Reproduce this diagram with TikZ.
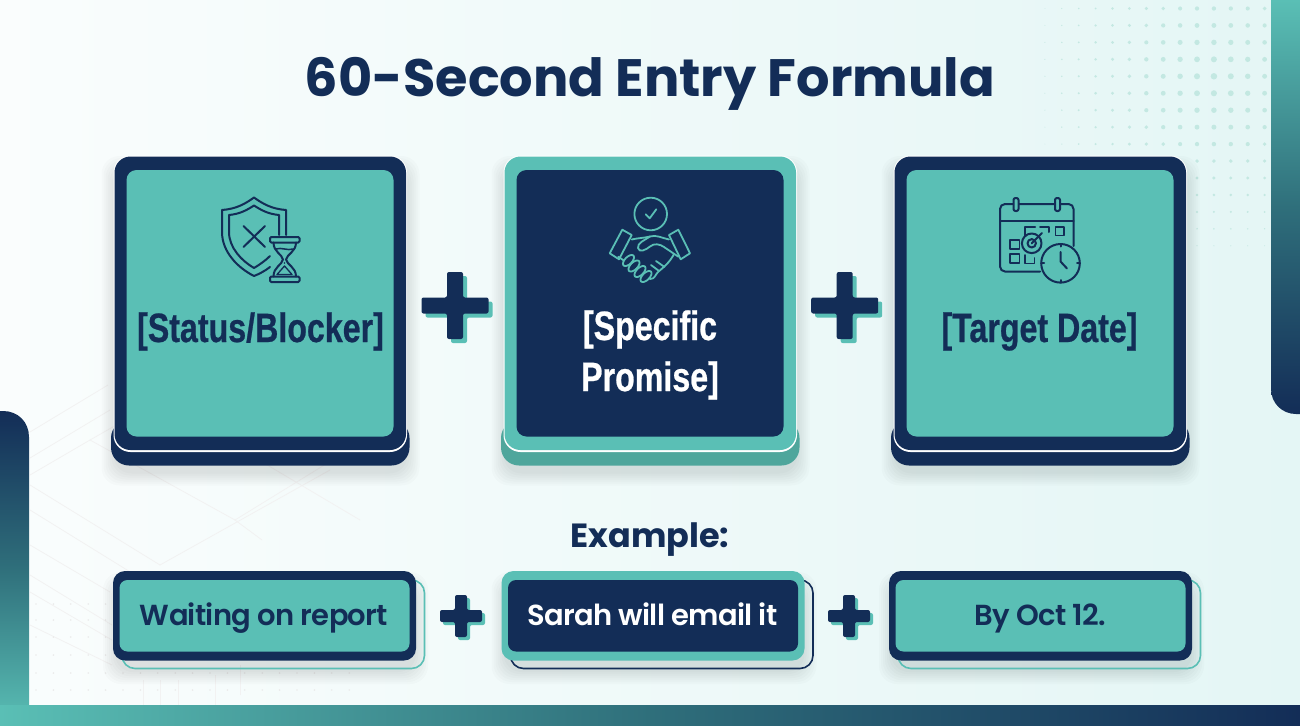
\documentclass[tikz,border=0pt]{standalone}
\usepackage{fontspec}
\setmainfont{Poppins}
\newfontfamily\titlefont[UprightFont=*,BoldFont=* Bold]{Poppins}
\newfontfamily\cardfont[UprightFont={* Bold},FakeStretch=0.785,FakeBold=0.6]{Liberation Sans}
\newfontfamily\examplefont[LetterSpace=-2.4]{Poppins SemiBold}
\definecolor{navy}{HTML}{132D57}
\definecolor{teal1}{HTML}{5ABFB5}
\definecolor{tealdark}{HTML}{4FA69C}
\definecolor{midbar}{HTML}{2F6F7B}
\definecolor{bgA}{HTML}{FAFDFD}
\definecolor{bgB}{HTML}{E4F6F5}
\definecolor{dotc}{HTML}{A8DDD2}
\tikzset{
  x=1pt,y=-1pt,
  icon/.style={line width=2pt,line cap=round,line join=round},
  cardlabel/.style={font=\cardfont\fontsize{41}{50}\selectfont,align=center,anchor=base,inner sep=0pt},
  exlabel/.style={font=\examplefont\fontsize{29}{34}\selectfont,anchor=base,inner sep=0pt},
  softrule/.style={draw=black!5,line width=0.8pt},
}
% soft shadow behind a rounded box
\newcommand{\softdrop}[4]{%
  \foreach \g in {12,10,8,6,4,2,0}{%
    \fill[black,opacity=0.014,rounded corners=18pt]
      ({#1-\g+2},{#2+8-\g}) rectangle ({#3+\g-2},{#4+8+\g});}}
% large card: base colour, rim colour, fill colour, left x
\newcommand{\bigcard}[4]{%
  \softdrop{#4-3}{160}{#4+295}{465.5}
  \fill[#1,rounded corners=18pt] (#4-3.5,420) rectangle (#4+295,465.5);
  \fill[white,rounded corners=17pt] (#4-1,155.5) rectangle (#4+292.5,452);
  \fill[#2,rounded corners=16pt] (#4,156.5) rectangle (#4+291.5,450);
  \fill[#3,rounded corners=10pt] (#4+12,170) rectangle (#4+279,436.5);
}
% small card: outline colour, border colour, fill colour, left x
\newcommand{\smallcard}[4]{%
  \softdrop{#4}{576}{#4+305}{664}
  \draw[#1,line width=1.6pt,rounded corners=13pt] (#4+9,580) rectangle (#4+311.5,668.5);
  \fill[#2,rounded corners=12pt] (#4,571) rectangle (#4+303,660.5);
  \fill[#3,rounded corners=8pt] (#4+6.5,580) rectangle (#4+296.5,651.5);
}
% plus sign: centre x, centre y, half length, half thickness, shadow offset
\newcommand{\plusmark}[5]{%
  \foreach \dd/\cc in {#5/teal1,0/navy}{%
    \fill[\cc,rounded corners=2pt]
      ({#1-#3+\dd},{#2-#4+\dd}) -- ({#1-#4+\dd},{#2-#4+\dd}) -- ({#1-#4+\dd},{#2-#3+\dd})
      -- ({#1+#4+\dd},{#2-#3+\dd}) -- ({#1+#4+\dd},{#2-#4+\dd}) -- ({#1+#3+\dd},{#2-#4+\dd})
      -- ({#1+#3+\dd},{#2+#4+\dd}) -- ({#1+#4+\dd},{#2+#4+\dd}) -- ({#1+#4+\dd},{#2+#3+\dd})
      -- ({#1-#4+\dd},{#2+#3+\dd}) -- ({#1-#4+\dd},{#2+#4+\dd}) -- ({#1-#3+\dd},{#2+#4+\dd}) -- cycle;}}
\begin{document}
\begin{tikzpicture}
\useasboundingbox (0,0) rectangle (1300,725);
% background
\shade[shading angle=135,left color=bgA,right color=bgB] (0,0) rectangle (1300,725);
% top-right dots
\foreach \i in {0,...,14}{\foreach \j in {0,...,15}{%
  \pgfmathsetmacro{\px}{1028+16.9*\i}
  \pgfmathsetmacro{\py}{8.5+16.95*\j}
  \pgfmathsetmacro{\dst}{10*sqrt(((\px-1213)/10)^2+((\py-78)/10)^2)}
  \pgfmathsetmacro{\rr}{3.3*(1-\dst/205)}
  \ifdim \rr pt>0.35pt
    \fill[dotc,opacity=0.55] (\px,\py) circle ({\rr});
  \fi}}
% bottom-left faint lines and dots
\foreach \a/\b/\c/\d in {
  30/432/108/385, 30/458/110/410, 30/475/90/440, 30/485/160/565, 30/510/140/578, 30/545/110/592, 30/575/112/625,
  30/592/112/640, 30/625/112/665, 90/440/160/400, 90/440/235/520, 160/400/225/440, 235/520/300/480,
  235/520/262/540, 300/480/365/440, 225/440/360/520, 160/565/330/470, 140/578/200/630, 240/695/240/665, 143/705/143/680,
  160/705/160/680, 178/705/178/680, 215/705/215/675}{
  \draw[softrule] (\a,\b) -- (\c,\d);}
\foreach \i in {0,...,18}{\foreach \y in {604,620,637,655,673,690}{%
  \fill[black!8] ({36+17.4*\i},\y) circle (0.9);}}
% frame bars
\shade[top color=navy,bottom color=teal1,middle color=midbar]
  (0,725) -- (0,411) -- (3,411) .. controls (18,411) and (29,422) .. (29,437) -- (29,725) -- cycle;
\shade[left color=teal1,right color=navy,middle color=midbar] (0,705) rectangle (1300,725);
\shade[top color=teal1,bottom color=navy,middle color=midbar]
  (1271,0) -- (1271,389) .. controls (1271,403) and (1282,414) .. (1296,414) -- (1300,414) -- (1300,0) -- cycle;
% title
\node (title) [font=\titlefont\bfseries\fontsize{52.6}{60}\selectfont,text=navy,anchor=base,inner sep=0pt] at (650,96) {60-Second Entry Formula};
% large cards
\bigcard{navy}{navy}{teal1}{114.5}
\bigcard{tealdark}{teal1}{navy}{504.5}
\bigcard{navy}{navy}{teal1}{894.5}
\node (lblA) [cardlabel,text=navy] at (260.5,342) {[Status/Blocker]};
\node (lblB) [cardlabel,text=white] at (650,340) {[Specific};
\node (lblC) [cardlabel,text=white] at (650,391) {Promise]};
\node (lblD) [cardlabel,text=navy] at (1039.5,342) {[Target Date]};
% plus signs
\plusmark{455}{305.5}{33.5}{8}{4}
\plusmark{844.7}{305.5}{33.5}{8}{4}
% shield and hourglass icon
\begin{scope}[icon,draw=navy]
  \draw (286,235) -- (286,210) .. controls (272,209) and (263,204) .. (254,197.5) .. controls (245,204) and (236,209) .. (222,210)
        -- (222,232) .. controls (222,252) and (238,268) .. (254,276) .. controls (259,274) and (265,271) .. (270,267);
  \draw (279,235) -- (279,215) .. controls (268,214) and (261,210) .. (254,205.5) .. controls (247,210) and (240,214) .. (229,215)
        -- (229,232) .. controls (229,248) and (242,261) .. (254,268) .. controls (259,265) and (265,261) .. (270,256);
  \draw (243.5,226) -- (265,247) (265,226) -- (243.5,247);
  \draw[fill=teal1,rounded corners=1.2pt] (270,237) rectangle (299.5,242.5);
  \draw[fill=teal1,rounded corners=1.2pt] (270,276.5) rectangle (299.5,282);
  \draw (273.5,242.5) .. controls (273.5,252) and (282,254) .. (283,259.5) .. controls (282,265) and (273.5,267) .. (273.5,276.5);
  \draw (296,242.5) .. controls (296,252) and (287,254) .. (286,259.5) .. controls (287,265) and (296,267) .. (296,276.5);
  \draw[line width=1.5pt] (276,249) .. controls (281,247) and (288,251) .. (293,249);
  \draw[line width=1.3pt] (277,274.5) -- (284.5,266) -- (292,274.5) -- cycle;
  \fill[navy] (284.5,263) circle (0.8);
\end{scope}
% handshake icon
\begin{scope}[icon,draw=teal1,line width=1.8pt]
  \draw (650.7,214) circle (16.3);
  \draw (645.7,214.3) -- (649.7,218.3) -- (656.3,209.3);
  \draw (622.3,229.7) -- (631.7,235) -- (619,259.3) -- (609.7,253.3) -- cycle;
  \draw (678.3,229.7) -- (690,253.3) -- (680.7,259.3) -- (669,235) -- cycle;
  \draw (631.7,239.5) .. controls (638,238) and (644,238) .. (650,236.5) .. controls (656,234.5) and (662,238) .. (669,239.5);
  \draw (650,236.5) .. controls (645,240) and (637,243) .. (638,248) .. controls (639,253) and (646,250) .. (650,246.5) .. controls (654,243) and (660,244) .. (664,247) -- (678.3,256.7);
  \draw (618.3,256.7) -- (624.5,261);
  \draw (674,254) .. controls (670,262) and (664,267) .. (658,272) .. controls (655,275) and (655,279) .. (650,279);
  \draw (656,261) -- (664.5,267) (651,265) -- (659,271) ;
  \foreach \cx/\cy in {628.5/260.5,634/266,640/271.5,646/276.5}{
    \draw[fill=navy,rotate around={45:(\cx,\cy)}] (\cx,\cy) ellipse (7 and 3.6);}
\end{scope}
% calendar icon
\begin{scope}[icon,draw=navy,line width=2pt]
  \draw (1040,271.5) -- (1005,271.5) arc (90:180:5) -- (1000,209) arc (180:270:5) -- (1068.5,204) arc (-90:0:5) -- (1073.5,246);
  \draw (1000,220.7) -- (1073.5,220.7);
  \draw[fill=teal1,rounded corners=2pt] (1013.5,198) rectangle (1018.5,211);
  \draw[fill=teal1,rounded corners=2pt] (1055,198) rectangle (1060,211);
  \draw (1025,236) -- (1025,227) -- (1035,227) (1040,227) -- (1049,227) -- (1049,232);
  \draw[line width=1.8pt] (1055.5,227) rectangle (1064,235.5);
  \draw[line width=1.8pt] (1010,240) rectangle (1019.5,249);
  \draw[line width=1.8pt] (1010,254) rectangle (1019.5,263);
  \draw[line width=1.8pt] (1025,255) -- (1025,263.5) -- (1034.5,263.5) -- (1034.5,258);
  \draw (1031.7,243.3) circle (9.8);
  \draw (1031.7,243.3) circle (4.2);
  \draw (1031.7,243.3) -- (1042,233);
  \draw[fill=teal1] (1060.5,263.3) circle (19.3);
  \draw (1060.5,252) -- (1060.5,261.5) -- (1067,268.5);
  \draw (1060.5,244) -- (1060.5,246.5) (1060.5,280) -- (1060.5,282.5) (1041.5,263.3) -- (1044,263.3) (1077,263.3) -- (1079.5,263.3);
\end{scope}
% example
\node (ex) [font=\titlefont\bfseries\fontsize{33.5}{36}\selectfont,text=navy,anchor=base,inner sep=0pt] at (650,547) {Example:};
\smallcard{teal1}{navy}{teal1}{113}
\smallcard{navy}{teal1}{navy}{501.5}
\smallcard{teal1}{navy}{teal1}{889}
\node (exA) [exlabel,text=navy] at (264,625) {Waiting on report};
\node (exB) [exlabel,text=white] at (652.5,625) {Sarah will email it};
\node (exC) [exlabel,text=navy] at (1040.5,625) {By Oct 12.};
\plusmark{461}{616}{21}{6}{3}
\plusmark{849}{616}{21}{6}{3}
\end{tikzpicture}
\end{document}
